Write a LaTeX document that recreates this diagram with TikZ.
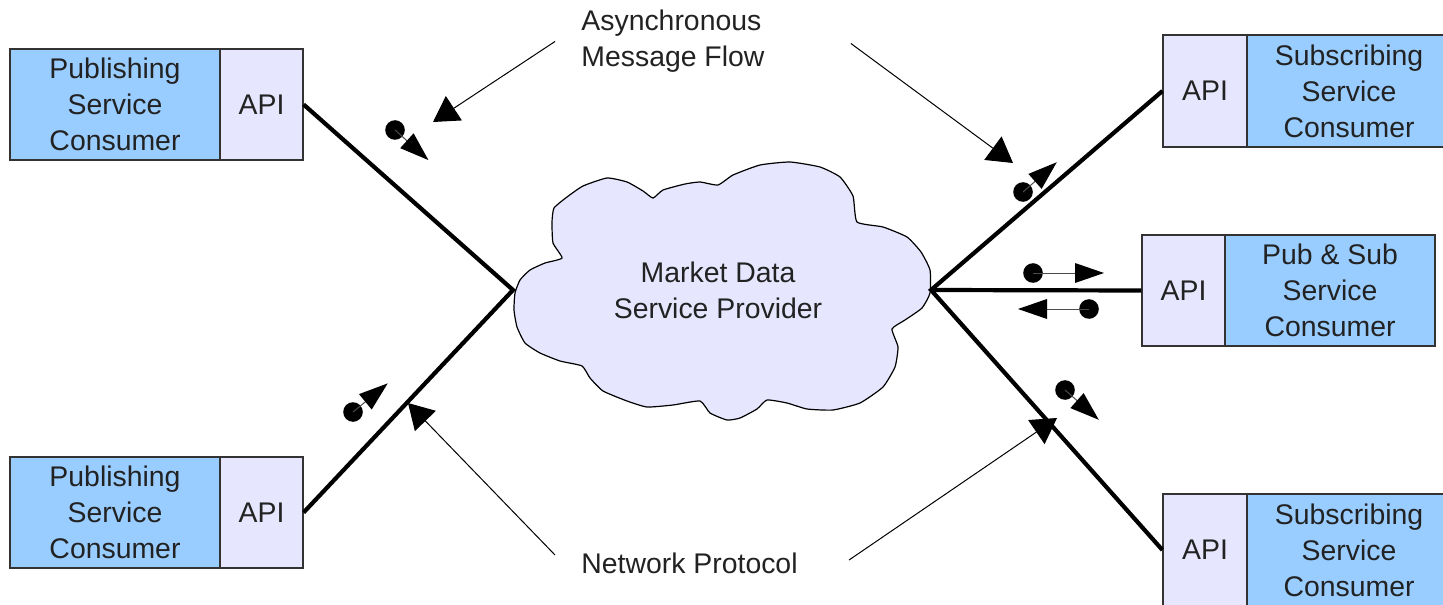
\documentclass[tikz,border=0pt]{standalone}
\usepackage{fontspec}
\setmainfont{Liberation Sans}
\usetikzlibrary{calc,arrows.meta}

\definecolor{consumerblue}{HTML}{99CCFF}
\definecolor{apililac}{HTML}{E6E6FF}
\definecolor{inkgray}{HTML}{222222}

\newcommand\diagfont{\fontsize{14.2}{18}\selectfont}

\tikzset{
  boxbase/.style={draw=black!80, line width=0.6pt, inner sep=0pt,
    minimum height=55.5pt, align=center, text=inkgray, font=\diagfont},
  consumer/.style={boxbase, fill=consumerblue, minimum width=105pt},
  apibox/.style={boxbase, fill=apililac, minimum width=41.5pt},
  wire/.style={line width=2.1pt, black},
  pointer/.style={line width=0.5pt, black,
    -{Triangle[length=12.5pt,width=14.5pt]}},
  notetext/.style={inner sep=0pt, align=left, text=inkgray, font=\diagfont},
  cloudshape/.style={fill=apililac, draw=black, line width=0.6pt},
}

% message token: dot, short stem and a solid triangle
% #1 = dot centre, #2 = direction, #3 = stem length
\newcommand\msgicon[3]{%
  \fill[black] (#1) circle[radius=4.9pt];
  \draw[line width=0.5pt, black!70] (#1) -- ($(#1)+(#2:#3)$);
  \fill[black] ($(#1)+(#2:#3)+(#2+90:10)$) -- ($(#1)+(#2:#3+29)$)
    -- ($(#1)+(#2:#3)+(#2-90:10)$) -- cycle;
}

\begin{document}
\begin{tikzpicture}[x=0.5pt, y=-0.5pt]
\clip (0,0) rectangle (1443,604);
\useasboundingbox (0,0) rectangle (1443,604);

% central provider cloud
\draw[cloudshape] plot[smooth cycle, tension=0.3] coordinates {
  (515,293) (520,280) (530,270) (545,263) (562,258) (553,243) (552,222)
  (554,208) (567,197) (583,186) (607,178) (627,182) (643,191) (653,198)
  (663,190) (685,184) (700,182) (718,185) (733,175) (760,165) (790,162)
  (820,167) (840,177) (853,196) (857,222) (883,227) (907,237) (921,252)
  (930,270) (930,293) (922,308) (905,320) (892,329) (898,347) (895,367)
  (883,387) (860,403) (833,410) (807,409) (787,403) (767,400) (757,409)
  (740,418) (727,420) (710,413) (700,401) (673,405) (647,407) (627,401)
  (603,391) (590,378) (582,366) (560,361) (540,353) (525,343) (517,327)
  (514,310)};
\node[notetext, align=center] (provider) at (718,290)
  {Market Data\\Service Provider};

\coordinate (hubL) at (513,290);
\coordinate (hubR) at (931,290);

% publishing consumers
\node[consumer] (pub1) at (115,104.5) {Publishing\\Service\\Consumer};
\node[apibox]   (api1) at (261.5,104.5) {API};
\node[consumer] (pub2) at (115,512.5) {Publishing\\Service\\Consumer};
\node[apibox]   (api2) at (261.5,512.5) {API};

% subscribing and mixed consumers
\node[apibox, minimum width=42pt, minimum height=56pt] (api3) at (1205,91) {API};
\node[consumer, minimum width=102pt, minimum height=56pt] (sub1) at (1349,91)
  {Subscribing\\Service\\Consumer};
\node[apibox] (api4) at (1183.5,290.5) {API};
\node[consumer] (pubsub) at (1330,290.5) {Pub \& Sub\\Service\\Consumer};
\node[apibox, minimum width=42pt, minimum height=56pt] (api5) at (1205,550) {API};
\node[consumer, minimum width=102pt, minimum height=56pt] (sub2) at (1349,550)
  {Subscribing\\Service\\Consumer};

% network links
\draw[wire] (api1.east) -- (hubL) -- (api2.east);
\draw[wire] (api3.west) -- (hubR) -- (api5.west);
\draw[wire] (hubR) -- (api4.west);

% message tokens travelling on the links
\msgicon{395,130}{42}{16}
\msgicon{353,412}{-39.5}{16}
\msgicon{1023,192}{-41.4}{16}
\msgicon{1033,273}{0}{42}
\msgicon{1089,309}{180}{42}
\msgicon{1065,390}{41.4}{16}

% annotations
\node[notetext, anchor=west] (async) at (581,41.5) {Asynchronous\\Message Flow};
\node[notetext, anchor=west] (netp) at (581,563) {Network Protocol};

\coordinate (tipTL) at (433,122);
\coordinate (tipTR) at (1013,163);
\coordinate (tipBL) at (408,403);
\coordinate (tipBR) at (1057,418);

\draw[pointer] ($(async.west)+(-26,0)$) -- (tipTL);
\draw[pointer] ($(async.east)+(86,2)$) -- (tipTR);
\draw[pointer] ($(netp.west)+(-26,-8)$) -- (tipBL);
\draw[pointer] ($(netp.east)+(51,-3)$) -- (tipBR);
\end{tikzpicture}
\end{document}
